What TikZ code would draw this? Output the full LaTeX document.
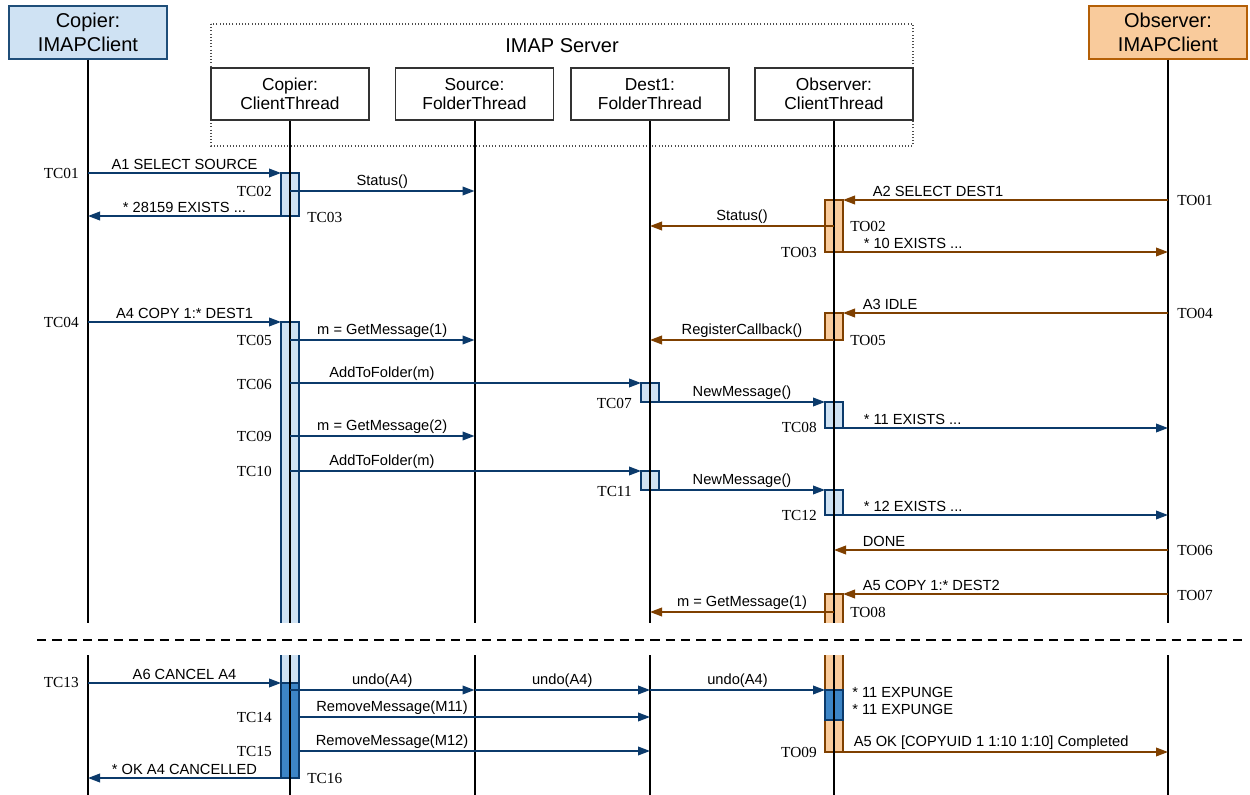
\documentclass[tikz,border=0pt]{standalone}
\usepackage{fontspec}
\setmainfont{Liberation Serif}
\setsansfont{Liberation Sans}
\usetikzlibrary{arrows.meta}
\definecolor{navy}{HTML}{0B3A6B}
\definecolor{rust}{HTML}{7F4000}
\definecolor{paleblue}{HTML}{CFE2F3}
\definecolor{paleorange}{HTML}{F9CB9C}
\definecolor{midblue}{HTML}{3D85C6}
\definecolor{blueedge}{HTML}{1F4E79}
\definecolor{orangeedge}{HTML}{B45F06}
\tikzset{
  client/.style={line width=1pt,minimum width=118.5pt,minimum height=39.75pt,align=center,font=\sffamily\fontsize{15}{17.5}\selectfont},
  thread/.style={draw=black!80,fill=white,line width=1pt,minimum width=118.5pt,minimum height=39pt,align=center,font=\sffamily\fontsize{13}{14.5}\selectfont},
  frame/.style={black!70,line width=0.8pt,dash pattern=on 0.8pt off 1.6pt},
  life/.style={line width=1.5pt},
  act/.style={line width=1.4pt,minimum width=13.5pt,inner sep=0pt,outer sep=0pt,anchor=north},
  bmsg/.style={navy,line width=1.2pt,-{Triangle[length=9pt,width=6.5pt]}},
  omsg/.style={rust,line width=1.2pt,-{Triangle[length=9pt,width=6.5pt]}},
  msg/.style={text=black,font=\sffamily\fontsize{11}{12.75}\selectfont,inner xsep=0pt,inner ysep=1.6pt,anchor=south},
  tick/.style={font=\fontsize{11.5}{13}\selectfont,inner sep=0pt},
}
\begin{document}
\begin{tikzpicture}[x=0.75pt,y=-0.75pt]
  \useasboundingbox[fill=white] (0,0) rectangle (1250,795);
  \coordinate (foot) at (0,795);
  % server frame
  \draw[frame] (211,24) rectangle (913,146);
  \node[font=\sffamily\fontsize{15}{17}\selectfont] (srv) at (562,46) {IMAP Server};
  % participants
  \node[client,fill=paleblue,draw=blueedge] (ci) at (88,32.5) {Copier:\\IMAPClient};
  \node[client,fill=paleorange,draw=orangeedge] (oi) at (1168,32.5) {Observer:\\IMAPClient};
  \foreach \n/\x/\a/\b in {ct/290/Copier/ClientThread, sf/474.5/Source/FolderThread,
      df/650/Dest1/FolderThread, ot/834/Observer/ClientThread}
    \node[thread] (\n) at (\x,94) {\a:\\\b};
  % activations
  \foreach \n/\x/\t/\b/\f/\d in {a1/290/173/216/paleblue/navy, a2/290/322/683/paleblue/navy,
      a3/290/683/778/midblue/navy, d1/650/383/402/paleblue/navy, d2/650/471/490/paleblue/navy,
      o1/834/200/252/paleorange/rust, o2/834/313/340/paleorange/rust, o3/834/402/428/paleblue/navy,
      o4/834/490/515/paleblue/navy, o5/834/594/752/paleorange/rust, o6/834/690/720/midblue/navy}
    \node[act,fill=\f,draw=\d,minimum height={(\b-\t)*0.75pt}] (\n) at (\x,\t) {};
  % lifelines
  \foreach \n in {ci,ct,sf,df,ot,oi}
    \draw[life] (\n.south) -- (\n |- foot);
  \fill[white] (0,623) rectangle (1250,655);
  \draw[line width=1.5pt,dash pattern=on 7pt off 4.5pt] (37,640) -- (1245,640);
  % time labels
  \foreach \n/\x/\y/\a/\l in {tc01/79/173/east/TC01, tc02/272/191/east/TC02, tc03/307/217/west/TC03,
      tc04/79/322/east/TC04, tc05/272/340/east/TC05, tc06/272/384/east/TC06, tc07/632/403/east/TC07,
      tc08/817/427/east/TC08, tc09/272/436/east/TC09, tc10/272/471/east/TC10, tc11/632/491/east/TC11,
      tc12/817/515/east/TC12, tc13/79/682/east/TC13, tc14/272/717/east/TC14, tc15/272/751/east/TC15,
      tc16/307/778/west/TC16,
      to01/1177/200/west/TO01, to02/850/226/west/TO02, to03/817/252/east/TO03, to04/1177/313/west/TO04,
      to05/850/340/west/TO05, to06/1177/550/west/TO06, to07/1177/595/west/TO07, to08/850/612/west/TO08,
      to09/817/752/east/TO09}
    \node[tick,anchor=\a] (\n) at (\x,\y) {\l};
  % copier
  \draw[bmsg] (ci |- a1.north) -- (a1.north west) node[msg,midway] {A1 SELECT SOURCE};
  \draw[bmsg] (ct |- tc02) -- (sf |- tc02) node[msg,midway] {Status()};
  \draw[bmsg] (a1.south west) -- (ci |- a1.south) node[msg,midway] {* 28159 EXISTS ...};
  \draw[bmsg] (ci |- a2.north) -- (a2.north west) node[msg,midway] {A4 COPY 1:* DEST1};
  \draw[bmsg] (ct |- tc05) -- (sf |- tc05) node[msg,midway] {m = GetMessage(1)};
  \draw[bmsg] (ct |- d1.north) -- (d1.north west) node[msg,pos=0.262] {AddToFolder(m)};
  \draw[bmsg] (d1.south east) -- (o3.north west) node[msg,midway] {NewMessage()};
  \draw[bmsg] (o3.south east) -- (oi |- o3.south) node[msg,at start,anchor=south west,xshift=15pt] {* 11 EXISTS ...};
  \draw[bmsg] (ct |- tc09) -- (sf |- tc09) node[msg,midway] {m = GetMessage(2)};
  \draw[bmsg] (ct |- d2.north) -- (d2.north west) node[msg,pos=0.262] {AddToFolder(m)};
  \draw[bmsg] (d2.south east) -- (o4.north west) node[msg,midway] {NewMessage()};
  \draw[bmsg] (o4.south east) -- (oi |- o4.south) node[msg,at start,anchor=south west,xshift=15pt] {* 12 EXISTS ...};
  % observer
  \draw[omsg] (oi |- o1.north) -- (o1.north east) node[msg,at end,anchor=south west,xshift=21.75pt] {A2 SELECT DEST1};
  \draw[omsg] (ot |- to02) -- (df |- to02) node[msg,midway] {Status()};
  \draw[omsg] (o1.south east) -- (oi |- o1.south) node[msg,at start,anchor=south west,xshift=15pt] {* 10 EXISTS ...};
  \draw[omsg] (oi |- o2.north) -- (o2.north east) node[msg,at end,anchor=south west,xshift=14.25pt] {A3 IDLE};
  \draw[omsg] (ot |- o2.south) -- (df |- o2.south) node[msg,midway] {RegisterCallback()};
  \draw[omsg] (oi |- to06) -- (ot |- to06) node[msg,at end,anchor=south west,xshift=21pt] {DONE};
  \draw[omsg] (oi |- o5.north) -- (o5.north east) node[msg,at end,anchor=south west,xshift=14.25pt] {A5 COPY 1:* DEST2};
  \draw[omsg] (ot |- to08) -- (df |- to08) node[msg,midway] {m = GetMessage(1)};
  % after the cancel
  \draw[bmsg] (ci |- a3.north) -- (a3.north west) node[msg,midway] {A6 CANCEL A4};
  \draw[bmsg] (ct |- o6.north) -- (sf |- o6.north) node[msg,midway] {undo(A4)};
  \draw[bmsg] (sf |- o6.north) -- (df |- o6.north) node[msg,midway] {undo(A4)};
  \draw[bmsg] (df |- o6.north) -- (o6.north west) node[msg,midway] {undo(A4)};
  \draw[bmsg] (a3.east |- tc14) -- (df |- tc14) node[msg,pos=0.265] {RemoveMessage(M11)};
  \draw[bmsg] (a3.east |- tc15) -- (df |- tc15) node[msg,pos=0.265] {RemoveMessage(M12)};
  \draw[bmsg] (a3.south west) -- (ci |- a3.south) node[msg,midway] {* OK A4 CANCELLED};
  \node[msg,anchor=north west,align=left] (expunge) at (852,685) {* 11 EXPUNGE\\* 11 EXPUNGE};
  \draw[omsg] (o5.south east) -- (oi |- o5.south) node[msg,at start,anchor=south west,xshift=7.5pt] {A5 OK [COPYUID 1 1:10 1:10] Completed};
\end{tikzpicture}
\end{document}
